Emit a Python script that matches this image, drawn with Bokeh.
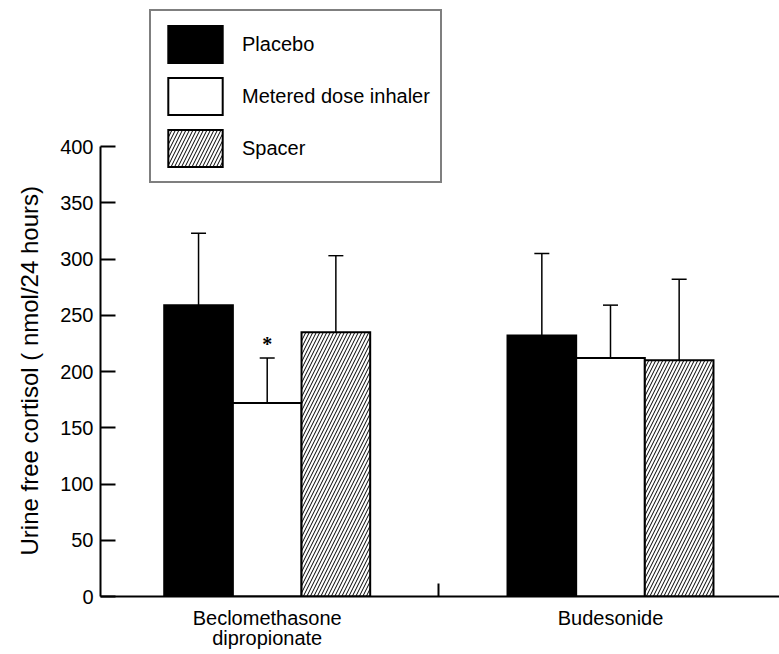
from bokeh.plotting import figure
from bokeh.models import (Range1d, FixedTicker, Whisker, TeeHead, Legend,
                          LegendItem, ColumnDataSource, Title)
from bokeh.embed import file_html
from bokeh.resources import INLINE

# ---------------- data ----------------
groups = ["Beclomethasone\ndipropionate", "Budesonide"]
series = ["Placebo", "Metered dose inhaler", "Spacer"]
placebo_mean = [259, 232]
placebo_upper = [323, 305]
mdi_mean = [172, 212]
mdi_upper = [212, 259]
spacer_mean = [235, 210]
spacer_upper = [303, 282]
mdi_marks = ["*", ""]
yticks = [0, 50, 100, 150, 200, 250, 300, 350, 400]
ylabel = "Urine free cortisol ( nmol/24 hours)"

means = [placebo_mean, mdi_mean, spacer_mean]
uppers = [placebo_upper, mdi_upper, spacer_upper]
marks = [["", ""], mdi_marks, ["", ""]]

# ---------------- styles ----------------
FONT = "Liberation Sans"
BAR_W = 0.2
offsets = [-BAR_W, 0.0, BAR_W]
fills = ["black", "white", "white"]
hatches = [" ", " ", "/"]

group_x = [i + 0.5 for i in range(len(groups))]

p = figure(width=779, height=654, output_backend="svg", toolbar_location=None,
           x_range=Range1d(0.0144, 1.9923), y_range=Range1d(0, 529.8),
           min_border_left=100, min_border_right=0, min_border_top=0,
           min_border_bottom=58)
p.outline_line_color = None
p.xgrid.visible = False
p.ygrid.visible = False
p.background_fill_color = "white"
p.border_fill_color = "white"

renderers = []
for k, name in enumerate(series):
    xs = [g + offsets[k] for g in group_x]
    src = ColumnDataSource(dict(x=xs, mean=means[k], upper=uppers[k], mark=marks[k]))
    r = p.vbar(x="x", top="mean", bottom=0, width=BAR_W, source=src,
               fill_color=fills[k], line_color="black", line_width=2,
               line_join="miter", hatch_pattern=hatches[k], hatch_color="black",
               hatch_scale=7, hatch_weight=1)
    renderers.append(r)
    w = Whisker(source=src, base="x", upper="upper", lower="mean",
                dimension="height", line_color="black", line_width=1.5,
                upper_head=TeeHead(size=15, line_color="black", line_width=1.5),
                lower_head=None, level="annotation")
    p.add_layout(w)
    p.text(x="x", y="upper", text="mark", source=src, text_align="center",
           text_baseline="middle", y_offset=-14, text_font=FONT,
           text_font_size="20px", text_font_style="bold", text_color="black")

# ---------------- axes ----------------
ya = p.yaxis[0]
ya.ticker = FixedTicker(ticks=yticks)
ya.bounds = (yticks[0], yticks[-1])
ya.major_tick_in = 15
ya.major_tick_out = 0
ya.minor_tick_line_color = None
ya.axis_line_width = 2
ya.major_tick_line_width = 2
ya.axis_line_color = "black"
ya.major_tick_line_color = "black"
ya.major_label_text_font = FONT
ya.major_label_text_font_size = "20px"
ya.major_label_text_color = "black"
ya.major_label_standoff = 7

# y-axis title as a left-side title, placed along the 0..400 span
p.add_layout(Title(text=ylabel, align="left", offset=41, standoff=26,
                   vertical_align="top",
                   text_font=FONT, text_font_size="24px",
                   text_font_style="normal", text_color="black"), "left")

xa = p.xaxis[0]
xa.ticker = FixedTicker(ticks=group_x, minor_ticks=[1.0])
xa.major_label_overrides = {gx: g for gx, g in zip(group_x, groups)}
xa.major_tick_in = 0
xa.major_tick_out = 0
xa.minor_tick_in = 13
xa.minor_tick_out = 0
xa.minor_tick_line_width = 2
xa.minor_tick_line_color = "black"
xa.axis_line_width = 2
xa.axis_line_color = "black"
xa.major_label_text_font = FONT
xa.major_label_text_font_size = "20px"
xa.major_label_text_color = "black"
xa.major_label_text_line_height = 0.95
xa.major_label_standoff = 10

# ---------------- legend ----------------
legend = Legend(items=[LegendItem(label=n, renderers=[r]) for n, r in zip(series, renderers)],
                location=(49, 413), padding=10, spacing=6,
                glyph_width=68, glyph_height=46, label_standoff=13, label_width=187,
                border_line_color="black", border_line_width=2,
                background_fill_color="white", background_fill_alpha=1.0,
                label_text_font=FONT, label_text_font_size="20px",
                label_text_color="black", label_text_baseline="middle")
p.add_layout(legend, "center")

open("out.html", "w").write(file_html(p, INLINE))
